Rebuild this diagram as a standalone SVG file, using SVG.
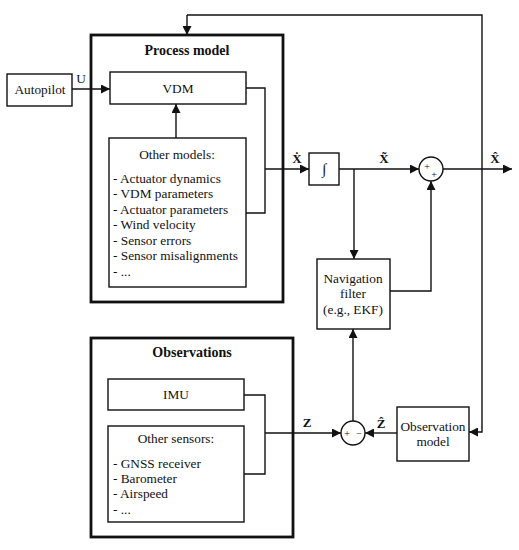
<svg xmlns="http://www.w3.org/2000/svg" width="519" height="550" viewBox="0 0 519 550">
<style>
text{font-family:'Liberation Serif','Times New Roman',Tinos,'Noto Serif','DejaVu Serif',serif;font-size:13.3px;fill:#111}
.c{text-anchor:middle}
.b{font-weight:bold}
.m{font-weight:bold;font-size:13px;text-anchor:middle}
.box{fill:#fff;stroke:#111;stroke-width:1.4}
.thick{fill:none;stroke:#111;stroke-width:2.8}
.ln{fill:none;stroke:#111;stroke-width:1.4}
.sm{font-size:10px;text-anchor:middle}
</style>
<defs>
<marker id="ah" viewBox="0 0 10 10" refX="10" refY="5" markerWidth="9" markerHeight="9" markerUnits="userSpaceOnUse" orient="auto">
<path d="M0,0 L10,5 L0,10 z" fill="#111"/>
</marker>
</defs>

<g id="process-model">
<rect class="thick" x="91" y="35" width="192" height="267"/>
<text class="c b" x="187" y="55" style="font-size:14px">Process model</text>
</g>
<g id="observations">
<rect class="thick" x="91" y="338" width="202" height="199"/>
<text class="c b" x="192" y="357" style="font-size:14px">Observations</text>
</g>

<g id="autopilot">
<rect class="box" x="7" y="74" width="65" height="32"/>
<text class="c" x="40" y="94">Autopilot</text>
</g>
<g id="vdm">
<rect class="box" x="110" y="72" width="136" height="32"/>
<text class="c" x="178" y="93">VDM</text>
</g>
<g id="other-models">
<rect class="box" x="109" y="138" width="137" height="149"/>
<text class="c" x="177" y="159">Other models:</text>
<text x="113" y="183">- Actuator dynamics</text>
<text x="113" y="198">- VDM parameters</text>
<text x="113" y="214">- Actuator parameters</text>
<text x="113" y="229">- Wind velocity</text>
<text x="113" y="245">- Sensor errors</text>
<text x="113" y="260">- Sensor misalignments</text>
<text x="113" y="276">- ...</text>
</g>
<g id="integrator">
<rect class="box" x="309" y="153" width="30" height="32"/>
<text class="c" x="324" y="174" style="font-size:15px">∫</text>
</g>
<g id="sum">
<circle class="box" cx="431" cy="169" r="12"/>
<text class="sm" x="427" y="170">+</text>
<text class="sm" x="434" y="178">+</text>
</g>
<g id="navigation-filter">
<rect class="box" x="317" y="259" width="73" height="70"/>
<text class="c" x="353" y="283">Navigation</text>
<text class="c" x="353" y="298">filter</text>
<text class="c" x="353" y="314">(e.g., EKF)</text>
</g>
<g id="imu">
<rect class="box" x="108" y="379" width="136" height="31"/>
<text class="c" x="176" y="399">IMU</text>
</g>
<g id="other-sensors">
<rect class="box" x="108" y="426" width="136" height="96"/>
<text class="c" x="176" y="443">Other sensors:</text>
<text x="113" y="468">- GNSS receiver</text>
<text x="113" y="483">- Barometer</text>
<text x="113" y="498">- Airspeed</text>
<text x="113" y="514">- ...</text>
</g>
<g id="difference">
<circle class="box" cx="353" cy="433" r="12"/>
<text class="sm" x="347" y="437">+</text>
<text class="sm" x="359" y="437">−</text>
</g>
<g id="observation-model">
<rect class="box" x="397" y="407" width="72" height="54"/>
<text class="c" x="433" y="431">Observation</text>
<text class="c" x="433" y="446">model</text>
</g>

<g id="connectors">
<path class="ln" d="M72,89 H110" marker-end="url(#ah)"/>
<path class="ln" d="M176,138 V104" marker-end="url(#ah)"/>
<path class="ln" d="M246,88 H265 V213 H246"/>
<path class="ln" d="M265,169 H309" marker-end="url(#ah)"/>
<path class="ln" d="M339,169 H419" marker-end="url(#ah)"/>
<path class="ln" d="M354,169 V259" marker-end="url(#ah)"/>
<path class="ln" d="M390,291 H431 V181" marker-end="url(#ah)"/>
<path class="ln" d="M443,169 H512" marker-end="url(#ah)"/>
<path class="ln" d="M187,15 V35" marker-end="url(#ah)"/>
<path class="ln" d="M187,15 H482 V432 H469" marker-end="url(#ah)"/>
<path class="ln" d="M244,395 H265 V474 H244"/>
<path class="ln" d="M265,433 H341" marker-end="url(#ah)"/>
<path class="ln" d="M397,433 H365" marker-end="url(#ah)"/>
<path class="ln" d="M353,421 V329" marker-end="url(#ah)"/>
<text x="81" y="83" class="c">U</text>
<text class="m" x="297" y="163">Ẋ</text>
<text class="m" x="384" y="163">X̃</text>
<text class="m" x="495" y="163">X̂</text>
<text class="m" x="307" y="427">Z</text>
<text class="m" x="381" y="428">Ẑ</text>
</g>
</svg>
